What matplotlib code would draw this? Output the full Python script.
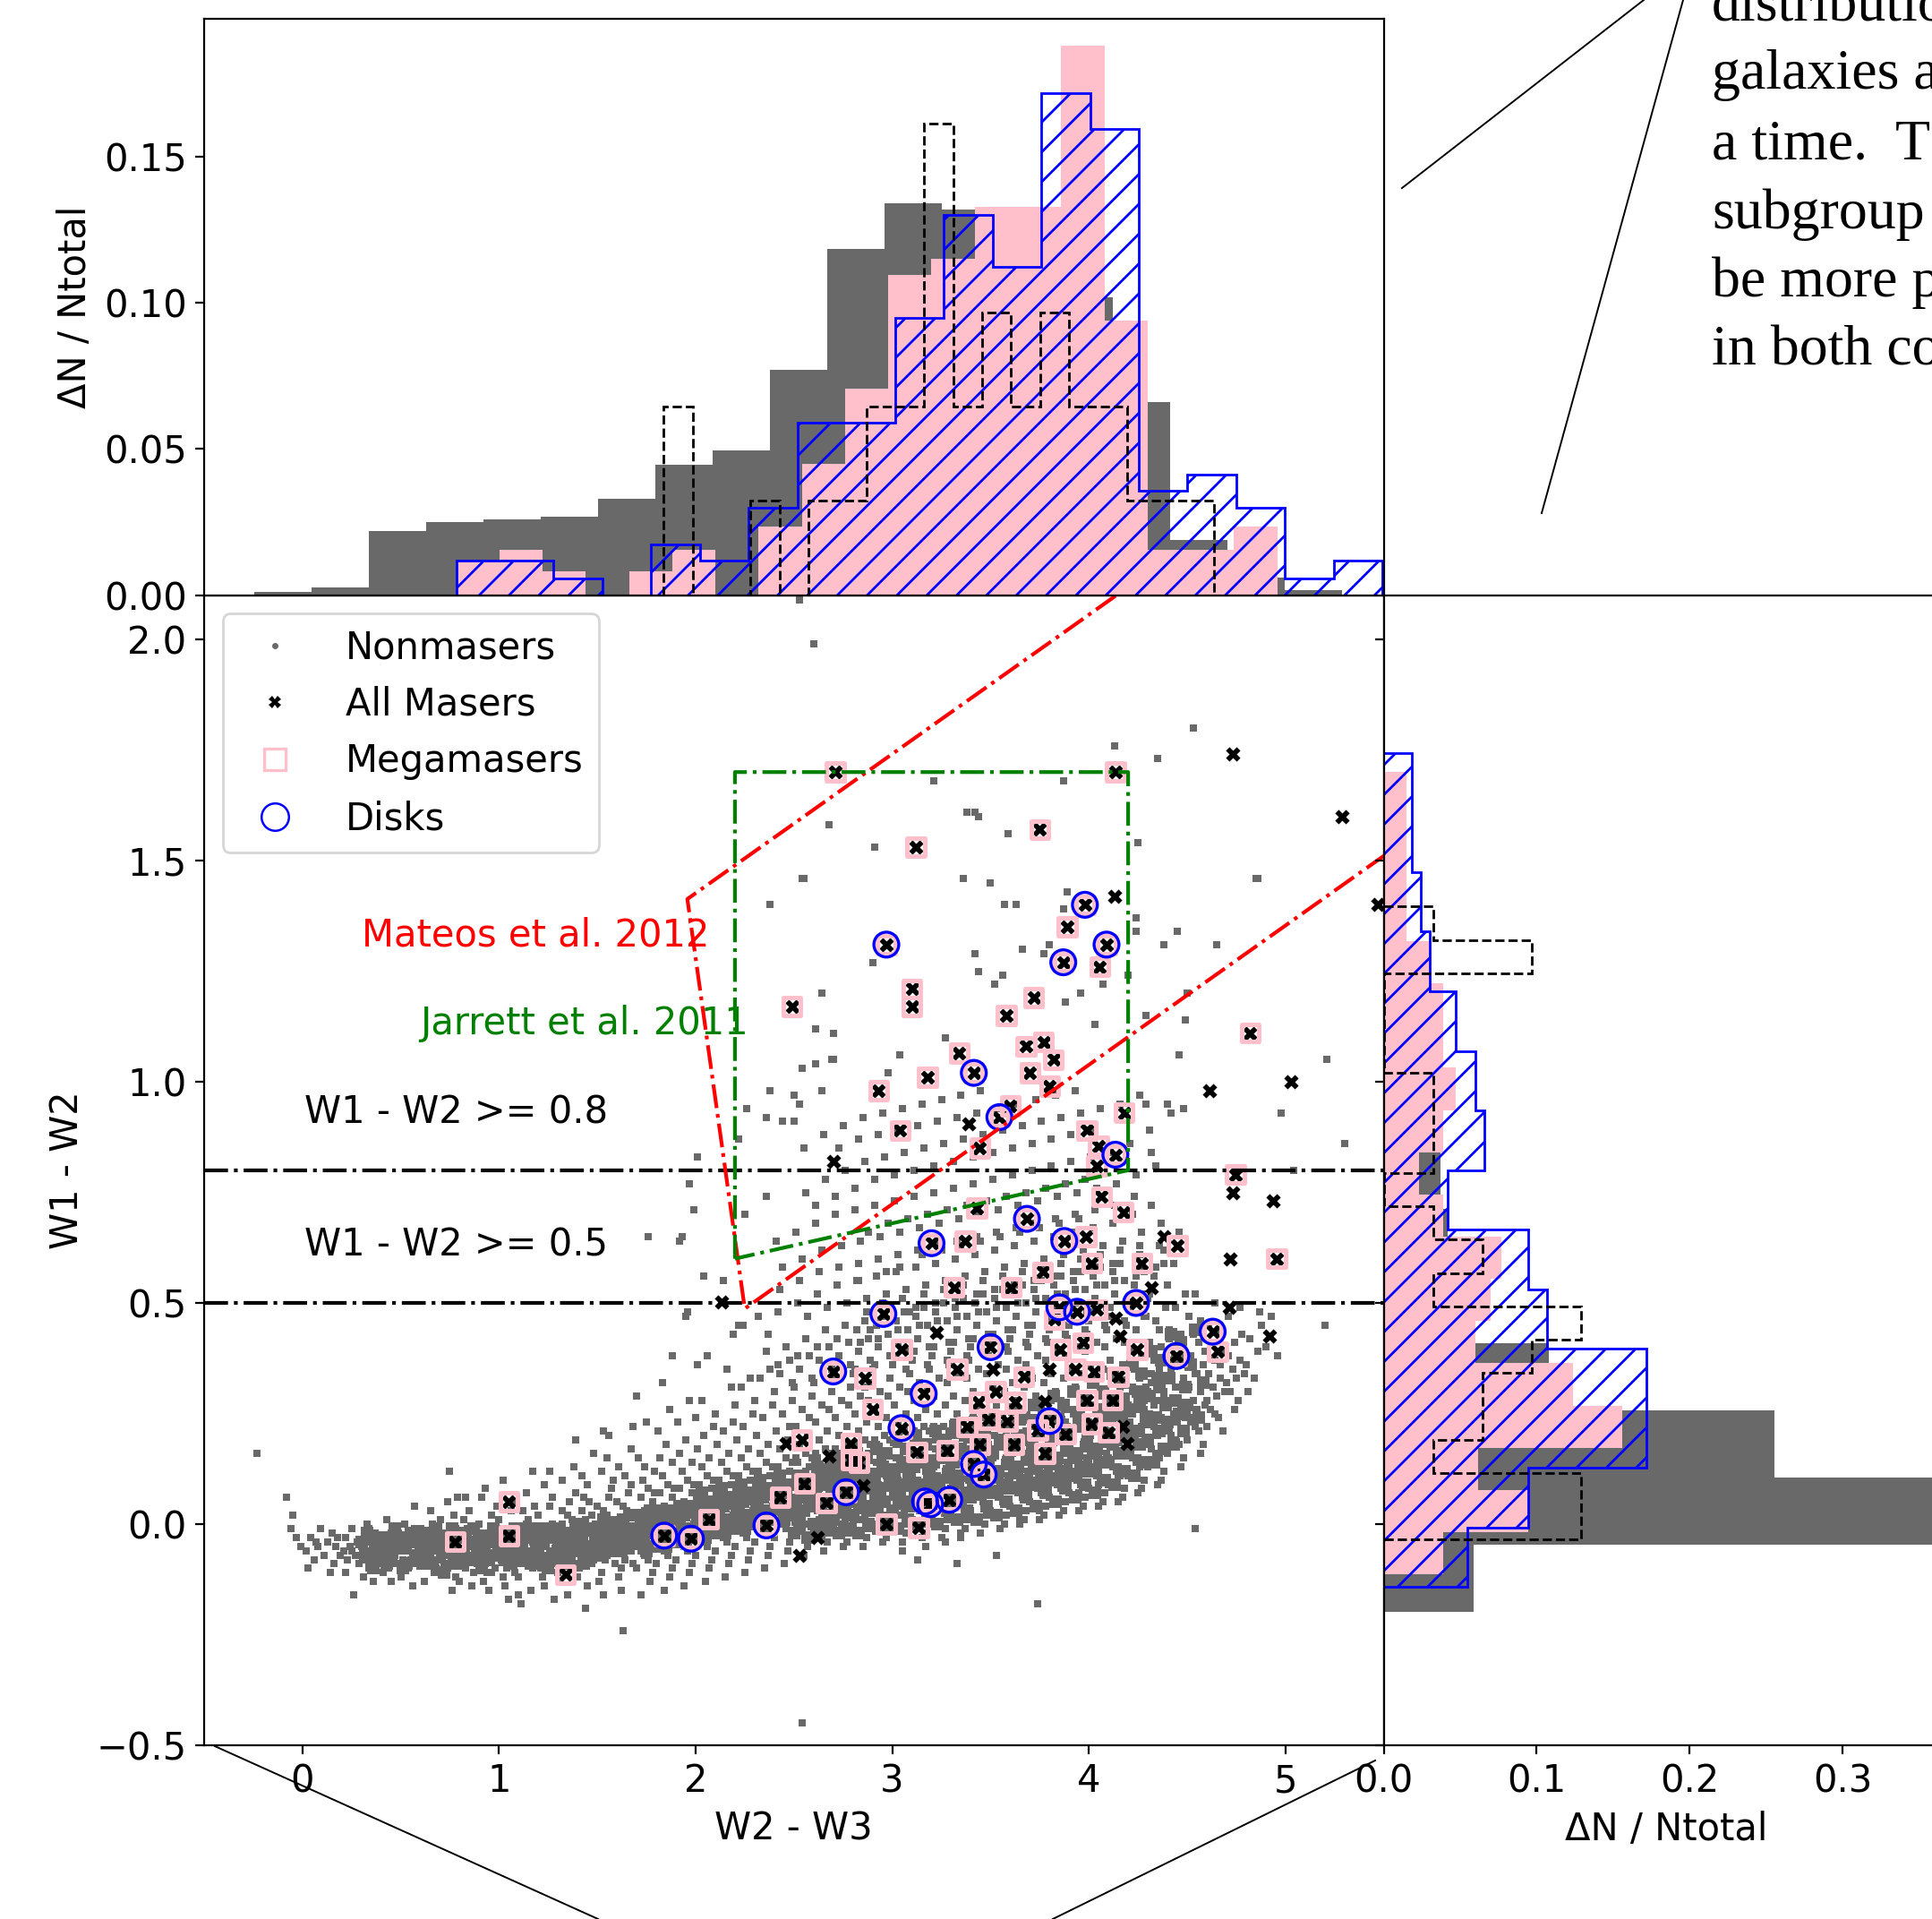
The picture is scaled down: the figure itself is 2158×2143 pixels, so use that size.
import numpy as np
import matplotlib
matplotlib.use("Agg")
import matplotlib.pyplot as plt
from matplotlib.lines import Line2D

# ---------------------------------------------------------------- data
# masers: W2-W3, W1-W2, kind (k = maser, p = megamaser, b = disk megamaser)
maser_x = [2.71, 4.135, 4.73, 5.29, 3.75, 3.12, 4.13, 3.98, 3.89, 2.97,
           4.09, 3.87, 4.055, 5.47, 2.49, 3.10, 3.10, 3.72, 3.58, 4.82,
           3.68, 3.77, 3.34, 3.82, 3.415, 3.18, 3.70, 3.80, 2.93, 4.615,
           5.03, 3.60, 3.545, 3.39, 4.18, 3.04, 3.99, 3.445, 4.135, 4.05,
           4.04, 2.70, 4.745, 4.73, 4.935, 4.065, 4.175, 3.43, 3.685, 3.875,
           3.20, 3.37, 3.985, 4.38, 4.45, 4.72, 4.955, 4.27, 4.015, 3.765,
           3.315, 3.605, 4.32, 2.13, 4.24, 3.85, 3.94, 4.04, 4.135, 4.715,
           2.955, 3.825, 3.227, 4.16, 4.63, 4.92, 3.50, 3.97, 3.855, 4.245,
           4.445, 4.655, 3.047, 2.86, 3.33, 3.51, 3.80, 3.93, 4.025, 3.67,
           4.15, 2.70, 3.16, 3.525, 2.90, 3.44, 3.625, 3.775, 3.99, 4.12,
           3.047, 3.38, 3.49, 3.585, 3.74, 3.80, 3.88, 4.015, 4.10, 4.17,
           4.195, 3.125, 3.28, 3.445, 3.62, 3.775, 2.83, 3.415, 3.465, 2.85,
           3.167, 3.193, 3.29, 2.97, 3.133, 2.54, 2.46, 2.79, 2.68, 2.79,
           2.553, 2.765, 2.43, 2.665, 2.067, 2.36, 2.62, 2.53, 1.84, 1.976,
           1.05, 1.05, 0.777, 1.338]
maser_y = [1.70, 1.70, 1.74, 1.60, 1.57, 1.53, 1.42, 1.40, 1.35, 1.31,
           1.31, 1.27, 1.26, 1.40, 1.17, 1.21, 1.17, 1.19, 1.15, 1.11,
           1.08, 1.09, 1.065, 1.05, 1.02, 1.01, 1.02, 0.99, 0.98, 0.98,
           1.00, 0.945, 0.92, 0.905, 0.93, 0.89, 0.89, 0.85, 0.835, 0.855,
           0.81, 0.82, 0.79, 0.75, 0.73, 0.74, 0.705, 0.715, 0.69, 0.64,
           0.635, 0.64, 0.65, 0.65, 0.63, 0.60, 0.60, 0.59, 0.59, 0.57,
           0.535, 0.535, 0.535, 0.503, 0.50, 0.49, 0.48, 0.485, 0.465, 0.49,
           0.475, 0.463, 0.433, 0.425, 0.435, 0.425, 0.40, 0.41, 0.395, 0.395,
           0.38, 0.39, 0.395, 0.33, 0.35, 0.35, 0.35, 0.35, 0.345, 0.333,
           0.333, 0.345, 0.295, 0.30, 0.26, 0.275, 0.275, 0.277, 0.28, 0.28,
           0.217, 0.22, 0.237, 0.233, 0.213, 0.233, 0.203, 0.227, 0.207, 0.22,
           0.183, 0.163, 0.167, 0.18, 0.18, 0.16, 0.14, 0.136, 0.112, 0.088,
           0.051, 0.045, 0.055, 0.0, -0.008, 0.19, 0.183, 0.183, 0.153, 0.146,
           0.092, 0.072, 0.061, 0.048, 0.011, -0.003, -0.03, -0.07, -0.026, -0.033,
           0.051, -0.026, -0.04, -0.114]
maser_kind = list("ppkkppkbpb" "bbpkpppppp" "ppppbppppk" "kpbkppppbp"
                  "pkpkkpppbb" "bppkpkpppp" "ppkkbbbpkk" "bpkkbkbppp"
                  "bppppkkppp" "pbbppppkpp" "bppppbpppk" "kppppppbbk"
                  "bbbpppkpkp" "pbpppbkkbb" "pppp")

# non-masers: (W2-W3, W1-W2) pairs in hundredths of a magnitude
nonmaser_xy = [
 -23,16, -8,6, -5,2, -3,-3, -1,-5, -6,-1,
 2,-6, 4,-3, 6,-8, 8,-5, 9,-1, 3,-10, 7,-4,
 11,-7, 13,-4, 14,-11, 15,-2, 16,-9, 17,-5, 18,-3, 19,-7, 26,-16,
 21,-6, 22,-3, 23,-8, 24,-5, 25,-1, 27,-7, 28,-4, 29,-9, 22,-11, 25,-6,
 30,-5, 31,-8, 32,-3, 33,-6, 34,-10, 35,-4, 36,-7, 37,-2, 38,-9, 39,-5, 31,-12, 34,-1, 36,-13, 38,-6, 33,0,
 40,-6, 41,-3, 42,-8, 43,-5, 44,-10, 45,-2, 46,-7, 47,-4, 48,-9, 49,-6, 41,-11, 43,1, 45,-13, 47,-7, 49,-2, 42,-5, 46,-4,
 50,-5, 51,-8, 52,-3, 53,-6, 54,-10, 55,-4, 56,-7, 57,-1, 58,-9, 59,-5, 50,-12, 52,0, 54,-6, 56,-14, 58,-3, 51,-6, 55,-8, 57,4,
 60,-6, 61,-3, 62,-9, 63,-5, 64,-2, 65,-7, 66,-4, 67,-11, 68,-6, 69,-3, 60,-1, 62,-13, 64,-8, 66,0, 68,-10, 61,-7, 63,-4, 65,3, 67,-5, 69,-8,
 70,-5, 71,-8, 72,-2, 73,-6, 74,-10, 75,-3, 76,-7, 77,-4, 78,-12, 79,-5, 70,1, 72,-9, 74,-6, 76,-15, 78,-1, 71,-4, 73,-11, 75,-7, 77,2, 79,-9, 74,5, 75,12,
 80,-6, 81,-3, 82,-9, 83,-5, 84,-1, 85,-7, 86,-4, 87,-11, 88,-6, 89,-2, 80,-13, 82,1, 84,-8, 86,-14, 88,-4, 81,-6, 83,-10, 85,3, 87,-7, 89,-9, 83,6, 86,-5,
 90,-5, 91,-8, 92,-2, 93,-6, 94,-11, 95,-3, 96,-7, 97,-4, 98,-10, 99,-5, 90,0, 92,-13, 94,-6, 96,2, 98,-1, 91,-4, 93,-9, 95,-15, 97,-7, 99,4, 93,8, 96,-11, 79,6, 91,6,
 100,-4, 101,-7, 102,-1, 103,-5, 104,-10, 105,-3, 106,-6, 107,-2, 108,-9, 109,-5, 100,1, 102,-12, 104,-6, 106,3, 108,-4, 101,-8, 103,-14, 105,-7, 107,5, 109,-1, 102,10, 105,-17, 108,-11, 110,-16,
 110,-5, 111,-2, 112,-8, 113,-4, 114,0, 115,-6, 116,-3, 117,-10, 118,-5, 119,-1, 110,-12, 112,3, 114,-7, 116,-15, 118,4, 111,-9, 113,-5, 115,1, 117,-4, 119,-8, 114,7, 117,12, 111,-18,
 120,-4, 121,-7, 122,-1, 123,-5, 124,-9, 125,-3, 126,-6, 127,0, 128,-8, 129,-4, 120,2, 122,-12, 124,-5, 126,4, 128,-2, 121,-10, 123,-14, 125,-7, 127,6, 129,-9, 123,9, 126,12, 128,-17,
 130,-3, 131,-6, 132,0, 133,-4, 134,-8, 135,-2, 136,-5, 137,1, 138,-9, 139,-3, 130,-11, 132,3, 134,-6, 136,5, 138,-1, 131,-13, 133,-7, 135,2, 137,-4, 139,7, 132,10, 135,-16, 138,13,
 140,-4, 141,-1, 142,-7, 143,-3, 144,1, 145,-5, 146,-2, 147,-9, 148,-3, 149,0, 140,-12, 142,3, 144,-6, 146,5, 148,-8, 141,-10, 143,6, 145,-14, 147,2, 149,-6, 142,11, 145,9, 148,16, 144,-19, 139,19,
 150,-3, 151,-6, 152,0, 153,-4, 154,-8, 155,2, 156,-2, 157,-5, 158,1, 159,-9, 150,4, 152,-11, 154,-1, 156,6, 158,-6, 151,-13, 153,3, 155,-7, 157,8, 159,-2, 152,12, 155,15, 158,10, 153,-16, 156,20, 153,21,
 160,-2, 161,-5, 162,1, 163,-3, 164,-8, 165,3, 166,-1, 167,-6, 168,2, 169,-4, 160,5, 162,-10, 164,0, 166,7, 168,-9, 161,-12, 163,4, 165,-5, 167,9, 169,-1, 161,13, 164,11, 167,17, 162,-15, 163,-24, 168,22,
 170,-3, 171,1, 172,-6, 173,-1, 174,3, 175,-4, 176,-8, 177,0, 178,5, 179,-2, 170,-10, 172,6, 174,-7, 176,8, 178,-11, 171,-5, 173,10, 175,2, 177,-13, 179,7, 171,15, 174,13, 175,23, 172,-16, 170,29, 179,12,
 180,-2, 181,2, 182,-5, 183,0, 184,4, 185,-3, 186,-7, 187,1, 188,6, 189,-1, 180,-9, 182,7, 184,-6, 186,9, 188,-10, 181,-4, 183,11, 185,3, 187,-12, 189,8, 182,15, 185,18, 188,14, 181,21, 184,-15, 187,26, 183,32, 188,38,
 190,-1, 191,3, 192,-4, 193,1, 194,5, 195,-2, 196,-6, 197,2, 198,7, 199,0, 190,-8, 192,8, 194,-5, 196,10, 198,-9, 191,-3, 193,12, 195,4, 197,-11, 199,9, 192,16, 195,19, 198,14, 191,23, 194,-14, 197,28, 193,65, 192,64,
 197,77, 199,71, 196,48, 195,47, 176,65, 201,83, 201,36, 206,38,
 200,0, 201,4, 202,-3, 203,2, 204,6, 205,-1, 206,-5, 207,3, 208,8, 209,1, 200,-7, 202,9, 204,-4, 206,11, 208,-8, 201,-2, 203,13, 205,5, 207,-10, 209,10, 201,17, 204,20, 207,15, 200,24, 203,28, 209,22, 205,-13, 204,56, 214,55,
 210,1, 211,5, 212,-2, 213,3, 214,7, 215,0, 216,-4, 217,4, 218,9, 219,2, 210,-6, 212,10, 214,-3, 216,12, 218,-7, 211,-1, 213,14, 215,6, 217,-9, 219,11, 211,18, 214,21, 217,16, 210,25, 216,35, 219,23, 215,-12, 218,31, 219,43,
 220,2, 221,6, 222,-1, 223,4, 224,8, 225,1, 226,-3, 227,5, 228,10, 229,3, 220,-5, 222,11, 224,-2, 226,13, 228,-6, 221,0, 223,15, 225,7, 227,-8, 229,12, 221,19, 224,22, 227,17, 220,27, 223,31, 229,25, 222,45, 225,-11, 228,33, 224,45, 225,70, 226,94, 222,87,
 230,3, 231,7, 232,0, 233,5, 234,9, 235,2, 236,-2, 237,6, 238,11, 239,4, 230,-4, 232,12, 234,-1, 236,14, 238,-5, 231,1, 233,16, 235,8, 237,-7, 239,13, 231,20, 234,24, 237,18, 230,28, 233,33, 236,39, 239,27, 232,47, 235,-10, 238,35, 237,43, 236,74, 236,92, 238,98,
 240,3, 241,8, 242,1, 243,6, 244,10, 245,2, 246,-1, 247,7, 248,12, 249,5, 240,-3, 242,13, 244,0, 246,15, 248,-4, 241,2, 243,17, 245,9, 247,-6, 249,14, 241,21, 244,25, 247,19, 240,30, 243,34, 246,40, 249,28, 242,48, 245,-9, 248,37, 244,58, 241,64, 243,53, 249,32, 242,36, 248,22, 244,91, 238,140,
 250,4, 251,9, 252,2, 253,7, 254,11, 255,3, 256,0, 257,8, 258,13, 259,6, 250,-2, 252,14, 254,1, 256,16, 258,-3, 251,3, 253,18, 255,10, 257,-5, 259,15, 251,22, 254,26, 257,20, 250,31, 253,35, 256,42, 259,29, 252,50, 255,-7, 258,38, 254,60, 257,47, 251,66, 256,75, 253,55, 259,33, 255,85, 252,38, 258,24, 254,-45, 253,95,
 250,6, 252,10, 254,-1, 256,12, 258,5, 251,15, 253,0, 259,9, 250,97, 250,91, 254,103, 254,146, 260,199, 253,209, 255,146,
 260,5, 261,10, 262,3, 263,8, 264,12, 265,4, 266,1, 267,9, 268,14, 269,7, 260,-1, 262,15, 264,2, 266,17, 268,-2, 261,4, 263,19, 265,11, 267,-4, 269,16, 261,23, 264,27, 267,21, 260,32, 263,37, 266,44, 269,30, 262,52, 265,-6, 268,40, 264,62, 267,49, 261,68, 266,78, 263,57, 269,35, 265,88, 262,40, 268,26, 264,98, 261,72,
 260,7, 262,11, 264,0, 266,13, 268,6, 261,16, 263,1, 269,10, 264,120, 261,112, 270,111, 269,105, 268,158,
 270,5, 271,11, 272,3, 273,8, 274,13, 275,5, 276,1, 277,10, 278,15, 279,7, 270,-1, 272,16, 274,2, 276,18, 278,-2, 271,4, 273,20, 275,12, 277,-4, 279,17, 271,24, 274,28, 277,22, 270,33, 273,38, 276,45, 279,31, 272,54, 275,-5, 278,41, 274,63, 277,50, 271,70, 276,80, 273,58, 279,36, 275,90, 272,42, 278,27, 271,74, 273,85,
 270,8, 272,12, 274,0, 276,14, 278,7, 271,17, 273,2, 279,11,
 280,6, 281,11, 282,4, 283,9, 284,14, 285,6, 286,2, 287,10, 288,16, 289,8, 280,0, 282,17, 284,3, 286,19, 288,-1, 281,5, 283,21, 285,13, 287,-3, 289,18, 281,25, 284,29, 287,23, 280,34, 283,39, 286,46, 289,32, 282,55, 285,-5, 288,42, 284,64, 287,51, 281,71, 286,82, 283,59, 289,37, 285,92, 282,44, 288,28, 281,76, 283,87, 288,66,
 281,35, 284,41, 287,48, 283,55, 286,31, 289,44, 280,9, 282,13, 284,1, 286,15, 288,8, 281,18, 283,3, 289,12,
 290,6, 291,12, 292,4, 293,9, 294,15, 295,7, 296,2, 297,11, 298,16, 299,8, 290,0, 292,18, 294,3, 296,20, 298,-1, 291,5, 293,22, 295,14, 297,-3, 299,19, 291,26, 294,30, 297,24, 290,35, 293,40, 296,47, 299,33, 292,56, 295,-4, 298,43, 294,65, 297,52, 291,72, 296,83, 293,60, 299,38, 295,93, 292,45, 298,29, 291,78, 293,88, 298,68, 291,153, 290,127,
 291,36, 293,42, 295,50, 297,57, 299,33, 292,46, 290,10, 292,14, 294,1, 296,16, 298,9, 291,19, 293,4, 299,13,
 300,7, 301,12, 302,5, 303,10, 304,15, 305,7, 306,3, 307,11, 308,17, 309,9, 300,1, 302,18, 304,4, 306,21, 308,0, 301,6, 303,23, 305,14, 307,-2, 309,20, 301,27, 304,31, 307,25, 300,36, 303,41, 306,48, 309,34, 302,57, 305,-4, 308,44, 304,66, 307,53, 301,73, 306,84, 303,61, 309,39, 305,94, 302,46, 308,30, 301,79, 303,89, 308,69, 300,10, 302,13, 305,2, 307,8, 309,14,
 301,38, 303,44, 305,51, 307,35, 309,48, 304,58, 300,11, 302,15, 304,2, 306,17, 308,10, 301,20, 303,5, 309,14, 305,-6,
 310,7, 311,13, 312,5, 313,10, 314,16, 315,8, 316,3, 317,12, 318,18, 319,9, 310,1, 312,19, 314,4, 316,22, 318,0, 311,6, 313,24, 315,15, 317,-2, 319,21, 311,28, 314,32, 317,26, 310,37, 313,42, 316,49, 319,35, 312,58, 315,-3, 318,45, 314,67, 317,54, 311,74, 316,85, 313,62, 319,40, 315,95, 312,47, 318,31, 311,80, 313,90, 318,70, 310,11, 312,14, 315,3, 317,9, 319,15, 313,-8,
 311,39, 314,45, 316,52, 318,36, 312,49, 315,61, 310,12, 312,16, 314,3, 316,18, 318,11, 311,21, 313,6, 319,15, 317,-5, 321,168,
 320,8, 321,13, 322,6, 323,11, 324,16, 325,8, 326,4, 327,12, 328,18, 329,10, 320,2, 322,19, 324,5, 326,22, 328,1, 321,7, 323,25, 325,16, 327,-1, 329,21, 321,29, 324,33, 327,27, 320,38, 323,43, 326,50, 329,36, 322,59, 325,-3, 328,46, 324,68, 327,55, 321,75, 326,86, 323,63, 329,41, 325,96, 322,48, 328,32, 321,81, 323,91, 328,71, 320,12, 322,15, 325,4, 327,10, 329,14,
 321,40, 323,46, 326,53, 328,37, 322,50, 325,62, 320,13, 322,17, 324,4, 326,19, 328,12, 321,22, 323,7, 329,16, 327,-4,
 330,8, 331,14, 332,6, 333,11, 334,17, 335,9, 336,4, 337,13, 338,19, 339,10, 330,2, 332,20, 334,5, 336,23, 338,1, 331,7, 333,25, 335,16, 337,-1, 339,22, 331,29, 334,34, 337,28, 330,39, 333,44, 336,51, 339,37, 332,60, 335,-2, 338,47, 334,69, 337,56, 331,76, 336,87, 333,64, 339,42, 335,97, 332,49, 338,33, 331,82, 333,92, 338,72, 330,12, 332,15, 335,5, 337,11, 339,16, 333,-9,
 331,41, 333,47, 336,54, 338,38, 332,51, 335,63, 330,14, 332,18, 334,5, 336,20, 338,13, 331,23, 333,8, 339,17, 335,-3, 338,161, 336,146,
 340,9, 341,14, 342,7, 343,12, 344,17, 345,9, 346,5, 347,13, 348,20, 349,11, 340,3, 342,21, 344,6, 346,24, 348,2, 341,8, 343,26, 345,17, 347,0, 349,23, 341,30, 344,35, 347,29, 340,40, 343,45, 346,52, 349,38, 342,61, 345,-2, 348,48, 344,70, 347,57, 341,77, 346,88, 343,65, 349,43, 342,50, 348,34, 341,83, 343,93, 348,73, 340,13, 342,16, 345,6, 347,12, 349,17, 342,161, 344,160, 342,129,
 341,42, 344,48, 346,55, 348,39, 343,52, 345,64, 340,15, 342,19, 344,6, 346,21, 348,14, 341,24, 343,9, 349,18, 345,-2,
 350,10, 351,15, 352,7, 353,12, 354,18, 355,10, 356,5, 357,14, 358,20, 359,11, 350,3, 352,22, 354,6, 356,25, 358,2, 351,8, 353,27, 355,18, 357,0, 359,23, 351,31, 354,36, 357,30, 350,41, 353,46, 356,53, 359,39, 352,62, 355,-1, 358,49, 354,71, 357,58, 351,78, 356,89, 353,66, 359,44, 352,51, 358,35, 351,84, 353,94, 358,74, 350,14, 352,17, 355,7, 357,13, 359,18, 353,-7, 350,145, 352,122,
 351,43, 353,49, 356,56, 358,40, 352,53, 355,65, 350,16, 352,20, 354,7, 356,22, 358,15, 351,25, 353,10, 359,19, 355,-1, 359,156,
 360,10, 361,16, 362,8, 363,13, 364,19, 365,11, 366,6, 367,15, 368,21, 369,12, 360,4, 362,23, 364,7, 366,26, 368,3, 361,9, 363,28, 365,19, 367,1, 369,24, 361,32, 364,37, 367,31, 360,42, 363,47, 366,54, 369,40, 362,63, 365,0, 368,50, 364,72, 367,59, 361,79, 366,90, 363,67, 369,45, 362,52, 368,36, 361,85, 363,95, 368,75, 360,15, 362,18, 365,8, 367,14, 369,19, 366,130, 363,140, 357,140,
 361,44, 364,50, 366,57, 368,41, 362,54, 365,66, 360,17, 362,21, 364,8, 366,23, 368,16, 361,26, 363,11, 369,20, 365,1,
 370,11, 371,17, 372,9, 373,14, 374,20, 375,12, 376,7, 377,16, 378,22, 379,13, 370,5, 372,24, 374,8, 376,27, 378,4, 371,10, 373,29, 375,20, 377,2, 379,25, 371,33, 374,38, 377,32, 370,43, 373,48, 376,55, 379,41, 372,64, 375,1, 378,51, 374,73, 377,60, 371,80, 376,91, 373,68, 379,46, 372,53, 378,37, 371,86, 373,96, 378,76, 370,16, 372,19, 375,9, 377,15, 379,20, 374,-18, 377,129,
 371,45, 373,51, 376,58, 378,42, 372,55, 375,67, 370,18, 372,22, 374,9, 376,24, 378,17, 371,27, 373,12, 379,21, 375,3,
 380,12, 381,18, 382,10, 383,15, 384,21, 385,13, 386,8, 387,17, 388,23, 389,14, 380,6, 382,25, 384,9, 386,28, 388,5, 381,11, 383,30, 385,21, 387,3, 389,26, 381,34, 384,39, 387,33, 380,44, 383,49, 386,56, 389,42, 382,65, 385,2, 388,52, 384,74, 387,61, 381,81, 386,92, 383,69, 389,47, 382,54, 388,38, 381,87, 383,97, 388,77, 380,17, 382,20, 385,10, 387,16, 389,22, 387,168, 389,143, 387,139, 388,118,
 381,46, 384,52, 386,59, 388,43, 382,56, 385,68, 380,19, 382,23, 384,10, 386,25, 388,18, 381,28, 383,13, 389,22, 385,5,
 390,13, 391,19, 392,11, 393,16, 394,22, 395,14, 396,9, 397,18, 398,24, 399,15, 390,7, 392,26, 394,10, 396,29, 398,6, 391,12, 393,31, 395,22, 397,4, 399,27, 391,35, 394,40, 397,34, 390,45, 393,50, 396,57, 399,43, 392,66, 395,3, 398,53, 394,75, 397,62, 391,82, 396,93, 393,70, 399,48, 392,55, 398,39, 391,88, 393,98, 398,78, 390,18, 392,21, 395,11, 397,17, 399,23, 396,120,
 391,47, 393,53, 396,60, 398,44, 392,57, 395,69, 390,21, 392,25, 394,12, 396,27, 398,20, 391,30, 393,15, 399,24, 395,7,
 400,14, 401,20, 402,12, 403,17, 404,23, 405,15, 406,10, 407,19, 408,25, 409,16, 400,8, 402,27, 404,11, 406,30, 408,7, 401,13, 403,32, 405,23, 407,5, 409,28, 401,36, 404,41, 407,35, 400,46, 403,51, 406,58, 409,44, 402,67, 405,4, 408,54, 404,76, 407,63, 401,83, 406,94, 403,71, 409,49, 402,56, 408,40, 401,89, 400,19, 402,22, 405,12, 407,18, 409,24, 403,113, 407,122,
 401,48, 404,54, 406,61, 408,45, 402,58, 400,23, 402,27, 404,14, 406,29, 408,22, 401,32, 403,17, 409,26, 405,9,
 410,15, 411,21, 412,13, 413,18, 414,24, 415,16, 416,11, 417,20, 418,26, 419,17, 410,9, 412,28, 414,12, 416,31, 418,8, 411,14, 413,33, 415,24, 417,6, 419,29, 411,37, 414,42, 417,36, 410,47, 413,52, 416,59, 419,45, 412,68, 415,5, 418,55, 414,77, 417,64, 411,84, 416,95, 413,72, 419,50, 412,57, 418,41, 410,20, 412,23, 415,13, 417,19, 419,25, 413,176,
 411,49, 413,55, 416,62, 418,46, 412,59, 410,25, 412,29, 414,16, 416,31, 418,24, 411,34, 413,19, 419,28, 415,11,
 420,17, 421,23, 422,15, 423,20, 424,26, 425,18, 426,13, 427,22, 428,28, 429,19, 420,11, 422,30, 424,14, 426,33, 428,10, 421,16, 423,35, 425,26, 427,8, 429,31, 421,39, 424,44, 427,38, 420,49, 423,54, 426,61, 429,47, 422,70, 425,7, 428,57, 424,79, 427,66, 421,86, 426,97, 423,74, 429,52, 420,22, 422,25, 425,15, 427,21, 424,137, 424,134, 425,154,
 421,50, 424,56, 426,63, 428,47, 420,27, 422,31, 424,18, 426,33, 428,26, 421,36, 423,21, 429,30, 429,115, 429,95,
 430,19, 431,25, 432,17, 433,22, 434,28, 435,20, 436,15, 437,24, 438,30, 439,21, 430,13, 432,32, 434,16, 436,35, 438,12, 431,18, 433,37, 435,28, 437,10, 439,33, 431,41, 434,46, 437,40, 430,51, 433,56, 436,63, 439,49, 432,72, 435,9, 438,59, 434,81, 437,68, 430,24, 433,27, 431,89, 432,84, 435,173,
 431,52, 434,58, 436,44, 438,62, 430,30, 432,34, 434,21, 436,36, 438,29, 431,39, 433,24, 438,131,
 440,22, 441,28, 442,20, 443,25, 444,31, 445,23, 446,18, 447,27, 448,33, 449,24, 440,16, 442,35, 444,19, 446,38, 448,15, 441,21, 443,40, 445,31, 447,13, 449,36, 441,44, 444,49, 447,43, 440,54, 443,59, 446,66, 449,52, 448,94, 440,95, 442,93, 445,134, 446,106,
 440,33, 442,37, 444,24, 446,40, 448,32, 441,42,
 450,25, 451,31, 452,23, 453,28, 454,34, 455,26, 456,21, 457,30, 458,36, 459,27, 450,19, 452,38, 454,22, 456,41, 458,18, 451,24, 453,43, 455,34, 457,16, 459,39, 451,47, 454,52, 457,46, 453,180, 454,-1, 450,120, 449,114,
 460,28, 461,34, 462,26, 463,31, 464,37, 465,29, 466,24, 467,33, 468,39, 469,30, 460,22, 462,41, 464,25, 466,44, 468,21, 461,45, 464,50, 467,36, 465,131,
 470,32, 471,38, 472,30, 473,35, 474,41, 475,33, 476,28, 477,37, 478,43, 479,34, 471,47, 474,26, 477,49,
 480,36, 482,42, 484,33, 486,39, 488,45, 481,30, 485,146, 487,48, 486,146,
 490,40, 493,47, 496,38, 504,80, 530,86, 520,45, 521,105, 498,93,
 26,-16, 110,-16, 163,-24, 126,12, 79,6, 91,6, 75,12, 153,21, 139,19, 170,29,
 261,104, 270,105, 304,106, 327,110, 344,125, 356,124, 380,131, 366,130, 420,124, 345,98, 298,102,
]
# non-masers packed along the dense ridge (same units, overlapping heavily)
nonmaser_ridge_xy = [
 30,-4, 32,-7, 34,-3, 35,-9, 37,-5, 39,-8, 33,-2, 36,-10,
 40,-3, 42,-6, 44,-4, 45,-8, 47,-1, 48,-5, 43,-9, 49,-3,
 50,-3, 52,-5, 53,-9, 55,-2, 56,-4, 58,-7, 51,-10, 59,-2,
 60,-4, 61,-9, 63,-2, 64,-6, 66,-9, 67,-3, 68,-1, 69,-5, 62,-6,
 70,-3, 71,-6, 72,-11, 73,-3, 75,-5, 76,-1, 77,-9, 78,-7, 79,-2,
 80,-3, 81,-9, 82,-6, 83,-2, 85,-4, 86,-8, 87,-1, 88,-8, 89,-5,
 90,-3, 91,-10, 92,-6, 94,-3, 95,-8, 96,-4, 97,-1, 98,-7, 99,-2,
 100,-6, 101,-2, 102,-4, 103,-8, 104,-2, 106,-9, 107,-4, 108,-1, 109,-7,
 110,-3, 111,-6, 112,-1, 113,-8, 115,-3, 116,-9, 117,-1, 118,-7, 119,-4,
 120,-6, 121,-3, 122,-8, 123,-1, 124,-3, 125,-10, 126,-1, 127,-7, 129,-2,
 130,-6, 131,-1, 132,-8, 133,-2, 134,-4, 136,-9, 137,-2, 138,-6, 139,0,
 140,-2, 141,-6, 142,-4, 143,-9, 144,-1, 146,-7, 147,-1, 148,-5, 149,-3,
 150,-1, 151,-4, 152,-7, 153,1, 154,-3, 156,-5, 157,-1, 158,-3, 159,-6,
 160,0, 161,-3, 162,-6, 163,1, 164,-3, 165,-1, 166,-4, 167,-2, 169,2,
 170,-1, 171,-4, 172,2, 173,-3, 174,0, 175,-6, 176,-2, 177,3, 178,-1, 179,-5,
 180,1, 181,-1, 182,3, 183,-3, 184,1, 185,-5, 186,2, 187,-2, 188,3, 189,-4,
 190,2, 191,0, 192,4, 193,-2, 194,2, 195,-4, 196,3, 197,-1, 198,4, 199,-3,
 200,3, 201,1, 202,5, 203,-1, 204,3, 205,-3, 206,4, 207,0, 208,5, 209,-2, 203,7,
 210,4, 211,2, 212,6, 213,0, 214,4, 215,-2, 216,5, 217,1, 218,6, 219,-1, 213,8,
 220,5, 221,3, 222,7, 223,1, 224,5, 225,-1, 226,6, 227,2, 228,7, 229,0, 223,9,
 230,6, 231,4, 232,8, 233,2, 234,6, 235,0, 236,7, 237,3, 238,8, 239,1, 233,10,
 240,7, 241,5, 242,9, 243,3, 244,7, 245,1, 246,8, 247,4, 248,9, 249,2, 243,11,
 250,-2, 251,5, 252,11, 253,-1, 254,7, 255,3, 256,10, 257,-3, 258,4, 259,8, 252,1, 256,6,
 260,0, 261,8, 262,13, 263,-2, 264,5, 265,10, 266,2, 267,12, 268,-1, 269,6, 262,4, 266,9,
 270,1, 271,9, 272,14, 273,-2, 274,6, 275,11, 276,3, 277,13, 278,-1, 279,7, 272,5, 276,10,
 280,2, 281,10, 282,16, 283,-2, 284,7, 285,12, 286,4, 287,15, 288,0, 289,8, 282,5, 286,11,
 290,3, 291,11, 292,17, 293,-1, 294,8, 295,13, 296,5, 297,16, 298,1, 299,9, 292,6, 296,12,
 300,3, 301,12, 302,19, 303,-1, 304,9, 305,14, 306,5, 307,17, 308,1, 309,10, 302,7, 306,13,
 310,4, 311,13, 312,20, 313,0, 314,9, 315,15, 316,6, 317,18, 318,2, 319,11, 312,8, 316,14,
 320,5, 321,14, 322,21, 323,0, 324,10, 325,16, 326,7, 327,19, 328,3, 329,12, 322,8, 326,15,
 330,5, 331,14, 332,22, 333,1, 334,11, 335,17, 336,7, 337,20, 338,3, 339,12, 332,9, 336,16,
 340,6, 341,15, 342,23, 343,1, 344,11, 345,18, 346,8, 347,21, 348,4, 349,13, 342,10, 346,17,
 350,7, 351,16, 352,24, 353,2, 354,12, 355,19, 356,9, 357,22, 358,5, 359,14, 352,11, 356,18,
 360,8, 361,17, 362,26, 363,3, 364,13, 365,20, 366,10, 367,24, 368,6, 369,15, 362,12, 366,19,
 370,9, 371,18, 372,27, 373,4, 374,14, 375,21, 376,11, 377,25, 378,7, 379,16, 372,13, 376,20,
 380,10, 381,19, 382,29, 383,5, 384,15, 385,23, 386,12, 387,27, 388,8, 389,17, 382,14, 386,21,
 390,11, 391,20, 392,30, 393,6, 394,16, 395,24, 396,13, 397,28, 398,9, 399,18, 392,15, 396,22,
 400,12, 401,22, 402,32, 403,7, 404,17, 405,26, 406,14, 407,30, 408,10, 409,20, 402,16, 406,24,
 410,14, 411,24, 412,34, 413,9, 414,19, 415,28, 416,16, 417,32, 418,12, 419,22, 412,18, 416,26,
 420,16, 421,26, 422,36, 423,11, 424,21, 425,30, 426,18, 427,34, 428,14, 429,24, 422,20, 426,28,
 430,19, 431,29, 432,39, 433,14, 434,24, 435,33, 436,21, 437,37, 438,17, 439,27, 432,23, 436,31,
 440,23, 441,33, 442,43, 443,18, 444,28, 445,37, 446,25, 447,41, 448,21, 449,31,
 450,27, 452,36, 454,44, 456,24, 458,32,
]

# top histogram (fraction of each sample per W2-W3 bin)
top_gray_range = (-0.247, 5.29)
top_gray = [0.001, 0.0025, 0.022, 0.025, 0.026, 0.027, 0.033, 0.0445, 0.0496, 0.077,
            0.1185, 0.134, 0.132, 0.115, 0.102, 0.066, 0.019, 0.006, 0.0016]
top_pink_range = (0.782, 4.958)
top_pink = [0.0118, 0.0155, 0.0082, 0.0, 0.0082, 0.0155, 0.0, 0.0236, 0.045, 0.0707,
            0.1097, 0.115, 0.133, 0.133, 0.188, 0.094, 0.0155, 0.0155, 0.0236]
top_blue_range = (0.782, 5.494)
top_blue = [0.0118, 0.0118, 0.0058, 0.0, 0.0175, 0.0118, 0.0299, 0.0589, 0.0589, 0.0949,
            0.1303, 0.1125, 0.1718, 0.1596, 0.0356, 0.0412, 0.0299, 0.0058, 0.0118]
top_disk_range = (1.837, 4.635)
top_disk_counts = [2, 0, 0, 1, 0, 1, 1, 2, 2, 5, 2, 3, 2, 3, 2, 2, 1, 1, 1]

# right histogram (fraction of each sample per W1-W2 bin, bottom to top)
rt_gray_range = (-0.503, 2.385)
rt_gray = [0.0005, 0.001, 0.059, 0.39, 0.2555, 0.108, 0.06, 0.042, 0.037, 0.02,
           0.012, 0.007, 0.004, 0.002, 0.001, 0.0005, 0.0003, 0.0, 0.0001]
rt_pink_range = (-0.114, 1.70)
rt_pink = [0.0386, 0.0946, 0.062, 0.156, 0.124, 0.060, 0.070, 0.077, 0.039, 0.023,
           0.039, 0.047, 0.0386, 0.0386, 0.0295, 0.0147, 0.0147, 0.0147, 0.0147]
rt_blue_range = (-0.142, 1.743)
rt_blue = [0.0545, 0.0946, 0.172, 0.172, 0.107, 0.0946, 0.042, 0.066, 0.060, 0.047,
           0.030, 0.024, 0.0184, 0.0184]
rt_disk_range = (-0.035, 1.396)
rt_disk_counts = [4, 4, 1, 2, 2, 3, 4, 1, 2, 1, 0, 1, 1, 1, 0, 0, 0, 3, 1]
n_disks = 31

# selection lines
mateos_x = [4.30, 1.958, 2.250, 5.60]
mateos_y = [2.150, 1.413, 0.487, 1.542]
jarrett_x = [2.2, 2.2, 4.2, 4.2, 2.2]
jarrett_y = [0.6, 1.7, 1.7, 0.8, 0.6]
w12_cuts = [0.8, 0.5]

slide_lines = ["distributio", "galaxies a", "a time.  T", "subgroup", "be more p", "in both co"]

# ---------------------------------------------------------------- figure
W, H, DPI = 2158, 2143, 200
plt.rcParams['font.family'] = ['DejaVu Sans']
plt.rcParams['font.size'] = 15
plt.rcParams['hatch.linewidth'] = 1.0
fig = plt.figure(figsize=(W / DPI, H / DPI), dpi=DPI)


def box(l, t, r, b):
    return [l / W, 1 - b / H, (r - l) / W, (b - t) / H]


X0, X1, YT, Y0, YB = 228, 1545.6, 21, 664.6, 1949
ax_sc = fig.add_axes(box(X0, Y0, X1, YB))
ax_top = fig.add_axes(box(X0, YT, X1, Y0), sharex=ax_sc)
ax_rt = fig.add_axes(box(X1, Y0, X1 + 0.37 * 1708, YB), sharey=ax_sc)


def draw_hist(ax, rng, vals, orient='vertical', **kw):
    vals = np.asarray(vals, float)
    edges = np.linspace(rng[0], rng[1], len(vals) + 1)
    centers = 0.5 * (edges[:-1] + edges[1:])
    ax.hist(centers, bins=edges, weights=vals, orientation=orient, **kw)


disk_top = np.asarray(top_disk_counts, float) / n_disks
disk_rt = np.asarray(rt_disk_counts, float) / n_disks

for ax, orient, g, p, b, d in [
        (ax_top, 'vertical', (top_gray_range, top_gray), (top_pink_range, top_pink),
         (top_blue_range, top_blue), (top_disk_range, disk_top)),
        (ax_rt, 'horizontal', (rt_gray_range, rt_gray), (rt_pink_range, rt_pink),
         (rt_blue_range, rt_blue), (rt_disk_range, disk_rt))]:
    draw_hist(ax, *g, orient=orient, histtype='stepfilled', color='dimgray')
    draw_hist(ax, *p, orient=orient, histtype='stepfilled', color='pink')
    draw_hist(ax, *b, orient=orient, histtype='step', color='blue', hatch='//', lw=1.0)
    draw_hist(ax, *d, orient=orient, histtype='step', color='black', ls='--', lw=1.0)

# scatter
nm = np.asarray(nonmaser_xy, float).reshape(-1, 2) / 100.0
nr = np.asarray(nonmaser_ridge_xy, float).reshape(-1, 2) / 100.0
mx = np.asarray(maser_x)
my = np.asarray(maser_y)
kind = np.asarray(maser_kind)
mega = (kind == 'p') | (kind == 'b')
disk = kind == 'b'

ax_sc.scatter(nr[:, 0], nr[:, 1], s=22, marker='s', c='dimgray', linewidths=0, zorder=2)
ax_sc.scatter(nm[:, 0], nm[:, 1], s=7, marker='s', c='dimgray', linewidths=0, zorder=2)
ax_sc.scatter(mx, my, s=34, marker='X', c='black', linewidths=0, zorder=3)
ax_sc.scatter(mx[mega], my[mega], s=49, marker='s', facecolors='none',
              edgecolors='pink', linewidths=1.8, zorder=4)
ax_sc.scatter(mx[disk], my[disk], s=100, marker='o', facecolors='none',
              edgecolors='blue', linewidths=1.2, zorder=5)

for yc in w12_cuts:
    ax_sc.axhline(yc, color='black', ls='-.', lw=1.5, zorder=6)
ax_sc.plot(mateos_x, mateos_y, color='red', ls='-.', lw=1.5, zorder=6)
ax_sc.plot(jarrett_x, jarrett_y, color='green', ls='-.', lw=1.5, zorder=6)

ax_sc.text(0.30, 1.331, 'Mateos et al. 2012', color='red', va='center', fontsize=15)
ax_sc.text(0.60, 1.131, 'Jarrett et al. 2011', color='green', va='center', fontsize=15)
ax_sc.text(0.01, 0.930, 'W1 - W2 >= 0.8', color='black', va='center', fontsize=15)
ax_sc.text(0.01, 0.630, 'W1 - W2 >= 0.5', color='black', va='center', fontsize=15)

ax_sc.set_xlim(-0.5, 5.5)
ax_sc.set_ylim(-0.5, 2.1)
ax_sc.set_xticks([0, 1, 2, 3, 4, 5])
ax_sc.set_yticks([-0.5, 0.0, 0.5, 1.0, 1.5, 2.0])
ax_sc.set_xlabel('W2 - W3')
ax_sc.set_ylabel('W1 - W2')

ax_top.set_ylim(0, 0.1973)
ax_top.set_yticks([0.0, 0.05, 0.10, 0.15])
ax_top.tick_params(axis='x', which='both', length=0, labelbottom=False)
ax_top.set_ylabel('ΔN / Ntotal')

ax_rt.set_xlim(0, 0.37)
ax_rt.set_xticks([0.0, 0.1, 0.2, 0.3])
ax_rt.tick_params(axis='y', labelleft=False)
ax_rt.set_xlabel('ΔN / Ntotal')

handles = [
    Line2D([], [], ls='none', marker='.', ms=3, color='dimgray'),
    Line2D([], [], ls='none', marker='X', ms=5, color='black', mew=0),
    Line2D([], [], ls='none', marker='s', ms=8.5, mfc='none', mec='pink', mew=1.2),
    Line2D([], [], ls='none', marker='o', ms=11, mfc='none', mec='blue', mew=0.9),
]
ax_sc.legend(handles, ['Nonmasers', 'All Masers', 'Megamasers', 'Disks'],
             loc='upper left', fontsize=15, labelspacing=0.52, handletextpad=0.9)

# slide decorations around the chart
seg = [((1566, 210), (1836, 0)), ((1880, 0), (1722, 573)),
       ((240, 1950), (668, 2143)), ((1536, 1966), (1176, 2143))]
for (xa, ya), (xb, yb) in seg:
    fig.add_artist(Line2D([xa / W, xb / W], [1 - ya / H, 1 - yb / H],
                          transform=fig.transFigure, color='black', lw=0.7))
baselines = [23, 99, 177, 255, 331, 407]
for s, yb in zip(slide_lines, baselines):
    fig.text(1912 / W, 1 - yb / H, s, fontsize=23, family='Liberation Serif',
             va='baseline', ha='left')

fig.savefig('out.png', dpi=DPI)
